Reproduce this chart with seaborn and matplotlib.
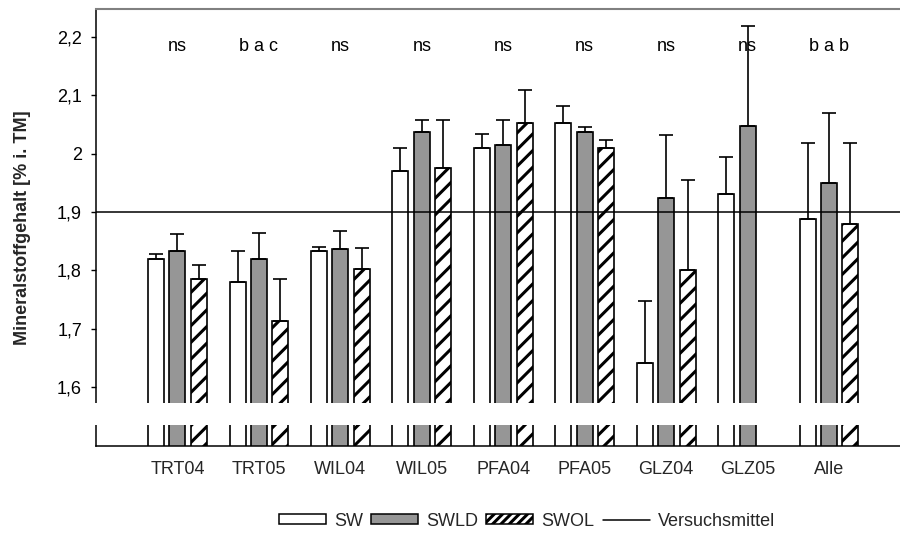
import numpy as np
import pandas as pd
import matplotlib
matplotlib.use("Agg")
import matplotlib.pyplot as plt
import seaborn as sns
from matplotlib.patches import Patch, Rectangle
from matplotlib.lines import Line2D
from matplotlib.ticker import FuncFormatter

categories = ["TRT04", "TRT05", "WIL04", "WIL05", "PFA04", "PFA05", "GLZ04", "GLZ05", "Alle"]
series = ["SW", "SWLD", "SWOL"]
sw = [1.819, 1.780, 1.834, 1.970, 2.009, 2.052, 1.641, 1.931, 1.888]
swld = [1.834, 1.819, 1.837, 2.037, 2.015, 2.037, 1.924, 2.048, 1.949]
swol = [1.786, 1.713, 1.803, 1.976, 2.052, 2.009, 1.801, np.nan, 1.879]
sw_err = [0.009, 0.054, 0.006, 0.039, 0.025, 0.030, 0.106, 0.063, 0.130]
swld_err = [0.028, 0.045, 0.030, 0.021, 0.043, 0.009, 0.107, 0.170, 0.121]
swol_err = [0.024, 0.073, 0.036, 0.082, 0.057, 0.015, 0.153, np.nan, 0.139]
letters = ["ns", "b a c", "ns", "ns", "ns", "ns", "ns", "ns", "b a b"]
mean_line = 1.9
yticks = [1.6, 1.7, 1.8, 1.9, 2.0, 2.1, 2.2]

sns.set_theme(style="white")
plt.rcParams["font.family"] = ["Liberation Sans", "DejaVu Sans"]
plt.rcParams["hatch.linewidth"] = 2.2
plt.rcParams["hatch.color"] = "black"
FS = 13

rows = []
for i, c in enumerate(categories):
    for s, vals, errs in zip(series, [sw, swld, swol], [sw_err, swld_err, swol_err]):
        rows.append({"cat": c, "ser": s, "val": vals[i], "err": errs[i]})
df = pd.DataFrame(rows)

fig = plt.figure(figsize=(9, 5.42), dpi=100)
ax = fig.add_axes([96 / 900, 1 - 445.7 / 542, 1 - 96 / 900, (445.7 - 9) / 542])

palette = {"SW": "white", "SWLD": "#969696", "SWOL": "white"}
sns.barplot(data=df.dropna(subset=["val"]), x="cat", y="val", hue="ser",
            order=categories, hue_order=series, palette=palette,
            width=0.786, gap=0.25, edgecolor="black", linewidth=1.2,
            saturation=1, errorbar=None, legend=False, ax=ax)

step = 0.786 / 3
err_lookup = {(i, j): e for j, errs in enumerate([sw_err, swld_err, swol_err])
              for i, e in enumerate(errs)}
xs, ys, es = [], [], []
for p in ax.patches:
    xc = p.get_x() + p.get_width() / 2
    gi = int(round(xc))
    hi = int(round((xc - gi) / step)) + 1
    if hi == 2:
        p.set_hatch("//")
    e = err_lookup.get((gi, hi), np.nan)
    if not np.isnan(e):
        xs.append(xc)
        ys.append(p.get_height())
        es.append(e)
es = np.array(es)
ax.errorbar(xs, ys, yerr=[np.zeros_like(es), es], fmt="none", ecolor="black",
            elinewidth=1.2, capsize=4.7, capthick=1.2, zorder=4)

ax.axhline(mean_line, color="black", linewidth=1.1, zorder=5)

for i, t in enumerate(letters):
    ax.text(i, 2.184, t, ha="center", va="center", fontsize=FS, color="black", zorder=3)

ax.set_ylim(1.5, 2.2474)
ax.set_xlim(-1.0, 8.87)
ax.set_yticks(yticks)
ax.yaxis.set_major_formatter(FuncFormatter(lambda v, p: f"{v:g}".replace(".", ",")))
ax.tick_params(axis="y", direction="out", length=3.6, width=1, pad=6.5,
               labelsize=FS, left=True, colors="black")
ax.tick_params(axis="x", length=0, pad=11, labelsize=FS)
ax.set_xlabel("")
ax.set_ylabel("Mineralstoffgehalt [% i. TM]", fontsize=FS, fontweight="bold", labelpad=19)

for side in ["left", "bottom"]:
    ax.spines[side].set_color("black")
    ax.spines[side].set_linewidth(1.1)
ax.spines["top"].set_color("#808080")
ax.spines["top"].set_linewidth(1.5)
ax.spines["right"].set_visible(False)

# axis break
ax.add_patch(Rectangle((-0.02, 1.535), 1.04, 1.5738 - 1.535,
                       transform=ax.get_yaxis_transform(), facecolor="white",
                       edgecolor="none", clip_on=False, zorder=10))

handles = [Patch(facecolor="white", edgecolor="black", linewidth=1.1),
           Patch(facecolor="#969696", edgecolor="black", linewidth=1.1),
           Patch(facecolor="white", edgecolor="black", linewidth=1.1, hatch="////"),
           Line2D([0], [0], color="black", linewidth=1.1)]
fig.legend(handles, ["SW", "SWLD", "SWOL", "Versuchsmittel"], loc="center",
           bbox_to_anchor=(527 / 900, 1 - 521 / 542), ncol=4, frameon=False,
           fontsize=FS, handlelength=2.6, handleheight=0.5, handletextpad=0.45,
           columnspacing=0.45, borderpad=0)

fig.savefig("out.png", dpi=100)
